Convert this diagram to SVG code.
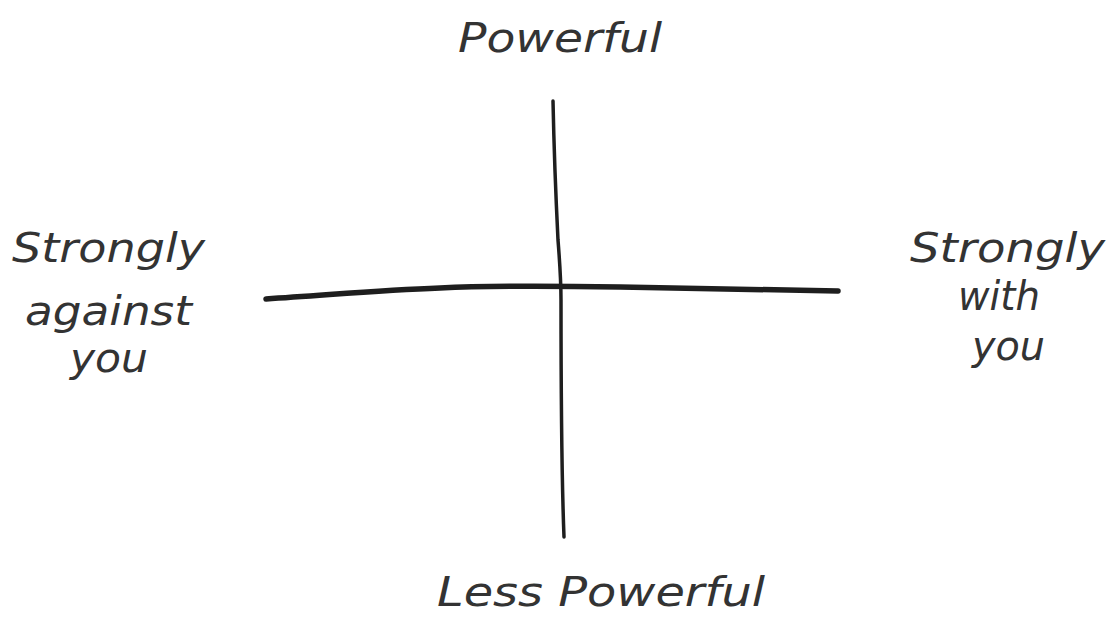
<svg xmlns="http://www.w3.org/2000/svg" width="1114" height="619" viewBox="0 0 1114 619">
<style>
.lbl{font-family:"DejaVu Sans","Liberation Sans",sans-serif;font-style:italic;font-size:40px;fill:#333;}
.ax{fill:none;stroke:#1e1e1e;stroke-linecap:round;stroke-linejoin:round;}
</style>
<rect width="1114" height="619" fill="#fff"/>
<g id="connectors">
<path class="ax" stroke-width="5.5" d="M266,299 C330,295 380,290 440,288 C500,285 560,286 620,287 C700,288 780,290 838,291"/>
<path class="ax" stroke-width="3.5" d="M553,101 C554,150 556,200 558,240 C560,265 561,285 561,300 C561,380 561,460 564,537"/>
</g>
<g id="top"><text class="lbl" x="458" y="52" textLength="204" lengthAdjust="spacingAndGlyphs">Powerful</text></g>
<g id="bottom"><text class="lbl" x="437" y="606" textLength="328" lengthAdjust="spacingAndGlyphs">Less Powerful</text></g>
<g id="left">
<text class="lbl" x="12" y="262" textLength="193" lengthAdjust="spacingAndGlyphs">Strongly</text>
<text class="lbl" x="25" y="325" textLength="167" lengthAdjust="spacingAndGlyphs">against</text>
<text class="lbl" x="70" y="372" textLength="78" lengthAdjust="spacingAndGlyphs">you</text>
</g>
<g id="right">
<text class="lbl" x="910" y="262" textLength="195" lengthAdjust="spacingAndGlyphs">Strongly</text>
<text class="lbl" x="958" y="310" textLength="82" lengthAdjust="spacingAndGlyphs">with</text>
<text class="lbl" x="972" y="360" textLength="73" lengthAdjust="spacingAndGlyphs">you</text>
</g>
</svg>
